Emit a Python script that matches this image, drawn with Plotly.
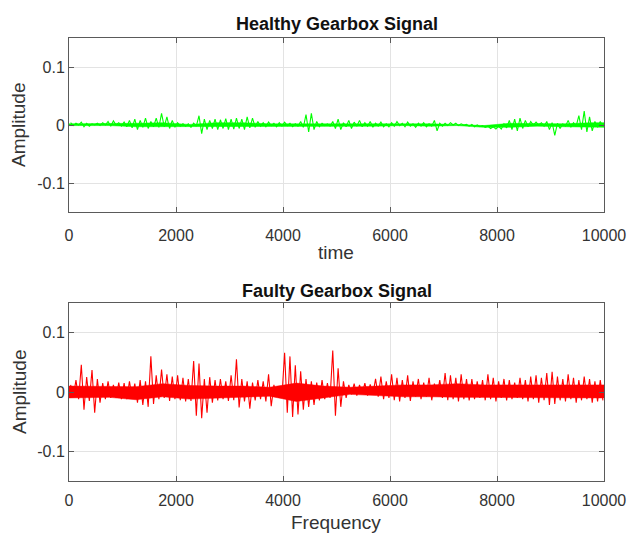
import plotly.graph_objects as go
from plotly.subplots import make_subplots

# Values, in thousandths of an amplitude unit.
# Spike envelope: 100 bins of 100 samples (max / min of each bin).
bin_size = 100
healthy_hi = [4, 3, 5, 3, 2, 3, 4, 6, 7, 4,
              5, 8, 10, 8, 12, 6, 12, 20, 14, 8,
              4, 2, 2, 3, 16, 10, 8, 10, 9, 11,
              10, 12, 10, 14, 12, 6, 4, 5, 3, 4,
              5, 3, 2, 6, 18, 20, 6, 3, 2, 6,
              10, 4, 8, 5, 8, 4, 6, 3, 5, 2,
              4, 6, 3, 5, 2, 3, 4, 2, 8, 3,
              3, 4, 3, 2, 1, 1, 0, -1, -2, -3,
              -2, 2, 8, 10, 12, 8, 6, 5, 4, 6,
              4, 3, 2, 8, 4, 16, 24, 14, 6, 6]
healthy_lo = [-1, 0, -3, -2, 0, -1, 0, -2, 0, -2,
              -3, -5, -8, -4, -6, -3, -4, -3, -6, -4,
              -2, -2, -4, -2, -15, -8, -6, -8, -6, -8,
              -7, -6, -8, -5, -4, -2, -3, -1, -3, -2,
              -1, -3, -2, -4, -12, -8, -3, -1, -2, -6,
              -8, -3, -6, -2, -3, -2, -4, -2, -3, -3,
              -2, -1, -3, -2, -4, -2, -3, -2, -10, -2,
              -1, 0, -1, 0, -2, -3, -3, -4, -6, -7,
              -7, -5, -8, -10, -6, -3, 0, 0, -2, -8,
              -18, -6, -2, -4, -2, -8, -12, -10, -4, -2]

faulty_hi = [12, 20, 46, 25, 37, 22, 15, 18, 12, 16,
             15, 18, 14, 20, 18, 60, 28, 38, 30, 26,
             28, 24, 22, 52, 48, 22, 25, 20, 22, 18,
             28, 55, 22, 18, 16, 20, 18, 30, 12, 10,
             66, 60, 45, 35, 22, 18, 16, 20, 15, 70,
             40, 18, 12, 14, 12, 15, 13, 22, 26, 18,
             30, 24, 20, 28, 18, 22, 16, 24, 14, 20,
             32, 28, 24, 30, 22, 22, 18, 20, 30, 24,
             18, 22, 20, 16, 24, 20, 26, 28, 24, 32,
             34, 26, 22, 30, 24, 20, 26, 22, 18, 20]
faulty_lo = [-8, -12, -30, -15, -35, -18, -12, -10, -10, -12,
             -12, -10, -18, -22, -25, -20, -12, -10, -15, -12,
             -14, -16, -15, -40, -44, -35, -18, -14, -12, -15,
             -14, -26, -16, -28, -14, -12, -16, -24, -8, -8,
             -35, -42, -38, -30, -25, -22, -14, -12, -10, -40,
             -25, -10, -4, -6, -3, -6, -4, -8, -12, -10,
             -14, -16, -10, -15, -8, -12, -8, -14, -6, -10,
             -14, -12, -16, -12, -14, -12, -10, -14, -12, -16,
             -10, -14, -12, -10, -12, -16, -12, -18, -14, -22,
             -20, -14, -16, -12, -18, -14, -12, -18, -16, -14]

# Dense core of the noise: 20 segments of 500 samples.
core_size = 500
healthy_core_hi = [2, 3, 3, 4, 1, 4, 4, 2, 2, 3, 3, 2, 2, 2, 1, -1, 3, 2, 2, 4]
healthy_core_lo = [-1, -1, -3, -2, -2, -3, -3, -2, -2, -2, -2, -2, -1, -2, -1, -4, -4, -2, -3, -4]
faulty_core_hi = [10, 10, 9, 14, 11, 10, 10, 8, 15, 10, 8, 10, 12, 12, 14, 12, 12, 13, 13, 12]
faulty_core_lo = [-10, -9, -13, -8, -12, -10, -9, -7, -16, -10, -4, -6, -8, -8, -9, -9, -9, -10, -10, -10]

x_ticks = [0, 2000, 4000, 6000, 8000, 10000]
x_ticktext = ["0", "2000", "4000", "6000", "8000", "10000"]
y_ticks = [-0.1, 0, 0.1]
y_ticktext = ["-0.1", "0", "0.1"]


def spikes(hi, lo):
    xs, ys = [], []
    for i, (h, l) in enumerate(zip(hi, lo)):
        xa = i * bin_size + bin_size * 0.3
        xb = i * bin_size + bin_size * 0.8
        xs += [xa, xb]
        ys += [h / 1000.0, l / 1000.0]
    return xs, ys


def core(hi, lo):
    n = len(hi)
    xc = [0] + [i * core_size + core_size * 0.5 for i in range(n)] + [n * core_size]
    hv = [hi[0]] + list(hi) + [hi[-1]]
    lv = [lo[0]] + list(lo) + [lo[-1]]
    xs = xc + xc[::-1]
    ys = [v / 1000.0 for v in hv] + [v / 1000.0 for v in lv][::-1]
    return xs, ys


fig = make_subplots(rows=2, cols=1, vertical_spacing=0.0)

for hi, lo, chi, clo, col, row in [
    (healthy_hi, healthy_lo, healthy_core_hi, healthy_core_lo, "#00ff00", 1),
    (faulty_hi, faulty_lo, faulty_core_hi, faulty_core_lo, "#ff0000", 2),
]:
    bx, by = core(chi, clo)
    fig.add_trace(go.Scatter(x=bx, y=by, mode="lines", fill="toself", fillcolor=col,
                             line=dict(width=0.5, color=col), hoverinfo="skip",
                             showlegend=False), row=row, col=1)
    zx, zy = spikes(hi, lo)
    fig.add_trace(go.Scatter(x=zx, y=zy, mode="lines", line=dict(color=col, width=1.1),
                             showlegend=False), row=row, col=1)

FONT = "Liberation Sans, Arial, Helvetica, sans-serif"
TXT = "#333333"
axis_common = dict(showgrid=True, gridcolor="#e3e3e3", gridwidth=1, zeroline=False,
                   showline=True, linecolor="#5a5a5a", linewidth=1, mirror="ticks",
                   ticks="inside", ticklen=5, tickcolor="#5a5a5a", automargin=False,
                   tickfont=dict(family=FONT, size=16, color=TXT))

T, B = 38, 53
H = 534 - T - B
top_dom = [(481 - 212) / H, 1.0]
bot_dom = [0.0, (481 - 303) / H]

fig.update_xaxes(range=[0, 10000], tickvals=x_ticks, ticktext=x_ticktext, **axis_common)
fig.update_yaxes(range=[-0.15, 0.15], tickvals=y_ticks, ticktext=y_ticktext, **axis_common)
fig.update_layout(yaxis=dict(domain=top_dom), yaxis2=dict(domain=bot_dom),
                  xaxis=dict(ticklabelstandoff=9), xaxis2=dict(ticklabelstandoff=5))


def py(pix):
    return (481 - pix) / H


def px(pix):
    return (pix - 69) / 535


ann = [
    dict(text="<b>Healthy Gearbox Signal</b>", x=px(336.5), y=py(24), size=18),
    dict(text="time", x=px(336), y=py(252), size=19),
    dict(text="<b>Faulty Gearbox Signal</b>", x=px(336.5), y=py(291), size=18),
    dict(text="Frequency", x=px(336), y=py(522), size=19),
]
for a in ann:
    fig.add_annotation(text=a["text"], x=a["x"], y=a["y"], xref="paper", yref="paper",
                       xanchor="center", yanchor="middle", showarrow=False,
                       font=dict(family=FONT, size=a["size"],
                                 color="#111111" if "<b>" in a["text"] else TXT))
for yy in (125, 392):
    fig.add_annotation(text="Amplitude", x=px(19), y=py(yy), xref="paper", yref="paper",
                       xanchor="center", yanchor="middle", textangle=-90, showarrow=False,
                       font=dict(family=FONT, size=19, color=TXT))

fig.update_layout(width=627, height=534, margin=dict(l=69, r=23, t=T, b=B, autoexpand=False),
                  paper_bgcolor="white", plot_bgcolor="white")

fig.write_html("out.html", config={"displayModeBar": False},
               post_script="document.body.style.margin='0px';")
